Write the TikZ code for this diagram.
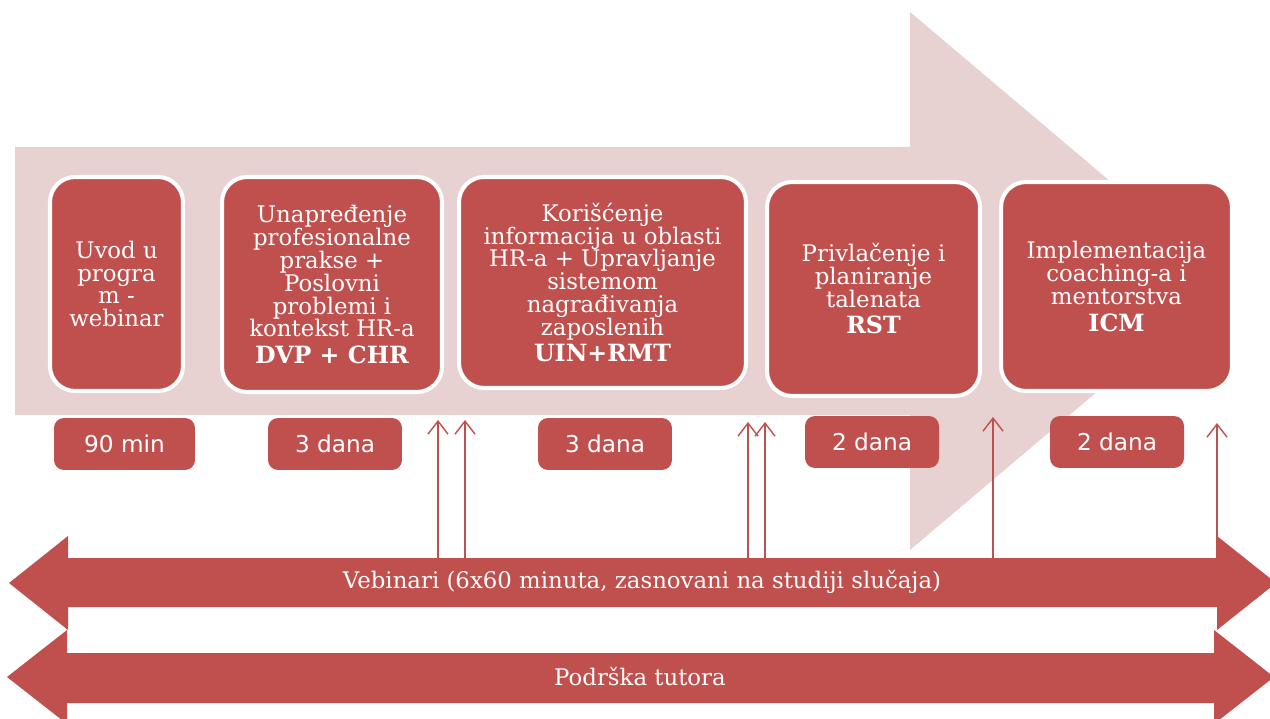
\documentclass[tikz,border=0pt]{standalone}
\usepackage{fontspec}
\setmainfont{DejaVu Serif}
\newfontfamily\durfont{DejaVu Sans}
\usetikzlibrary{arrows.meta}
\definecolor{darkred}{HTML}{C0504D}
\definecolor{lightred}{HTML}{E7D1D1}

\begin{document}
\begin{tikzpicture}[x=0.02cm, y=-0.02cm,
  stage/.style={draw=white, line width=2.3pt, fill=darkred, rounded corners=0.5cm, text=white, align=center, inner sep=2pt, font=\fontsize{13}{13}\selectfont},
  days/.style={fill=darkred, rounded corners=0.2cm, text=white, minimum width=2.68cm, minimum height=1.04cm, font=\durfont\fontsize{13.2}{15}\selectfont},
  banner/.style={text=white, font=\fontsize{13}{15}\selectfont},
  up/.style={draw=darkred, line width=0.8pt, -{Straight Barb[length=2.6mm, width=4mm]}},
  ]

\useasboundingbox (0,0) rectangle (1270,719);
\clip (0,0) rectangle (1270,719);

\fill [lightred] (15,147) -- (910,147) -- (910,12) -- (1228,281) -- (910,550) -- (910,415) -- (15,415) -- cycle;

\node (uvod) [stage, minimum width=2.66cm, minimum height=4.28cm] at (116.5,284) {Uvod u\\progra\\m -\\webinar};
\node (dvp) [stage, minimum width=4.4cm, minimum height=4.3cm] at (332,284.5) {Unapređenje\\profesionalne\\prakse +\\Poslovni\\problemi i\\kontekst HR-a\\[2pt]{\fontsize{13.5}{15}\selectfont\bfseries DVP + CHR}};
\node (uin) [stage, minimum width=5.74cm, minimum height=4.22cm] at (602.5,282.5) {Korišćenje\\informacija u oblasti\\HR-a + Upravljanje\\sistemom\\nagrađivanja\\zaposlenih\\[2pt]{\fontsize{13.5}{15}\selectfont\bfseries UIN+RMT}};
\node (rst) [stage, minimum width=4.26cm, minimum height=4.28cm] at (873.5,289) {Privlačenje i\\planiranje\\talenata\\[2pt]{\fontsize{13.5}{15}\selectfont\bfseries RST}};
\node (icm) [stage, minimum width=4.62cm, minimum height=4.18cm] at (1116.5,286.5) {Implementacija\\coaching-a i\\mentorstva\\[2pt]{\fontsize{13.5}{15}\selectfont\bfseries ICM}};

\node (d1) [days, minimum width=2.82cm] at (124.5,444) {90 min};
\node (d2) [days] at (335,444) {3 dana};
\node (d3) [days] at (605,444) {3 dana};
\node (d4) [days] at (872,442) {2 dana};
\node (d5) [days] at (1117,442) {2 dana};

\foreach \x/\y [count=\i] in {438/420, 465/420, 748/422, 765/422, 993/417, 1217/423}
{
  \coordinate (b\i) at (\x,558);
  \coordinate (t\i) at (\x,\y);
  \draw [up] (b\i) -- (t\i);
}

\fill [darkred] (9,583) -- (68,536) -- (68,558) -- (1217,558) -- (1217,536) -- (1276,583) -- (1217,630) -- (1217,607) -- (68,607) -- (68,630) -- cycle;
\node (vebinari) [banner] at (642,582) {Vebinari (6x60 minuta, zasnovani na studiji slučaja)};

\fill [darkred] (7,677) -- (67,630) -- (67,653) -- (1214,653) -- (1214,630) -- (1274,677) -- (1214,724) -- (1214,703) -- (67,703) -- (67,724) -- cycle;
\node (tutor) [banner] at (640,677) {Podrška tutora};

\end{tikzpicture}
\end{document}
